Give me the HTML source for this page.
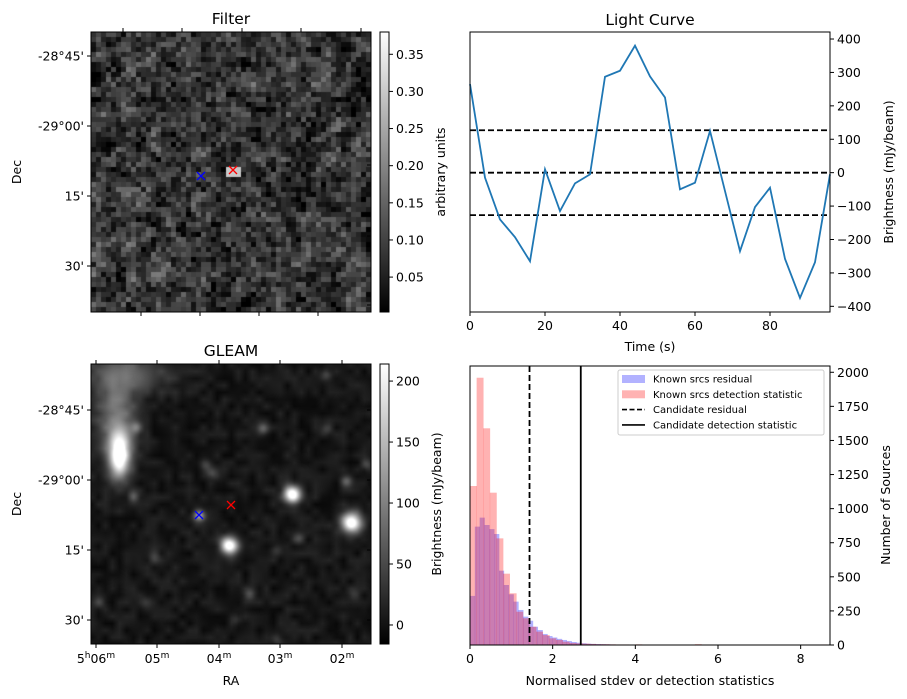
<!DOCTYPE html>
<html><head><meta charset="utf-8">
<style>
body{margin:0;background:#fff;width:907px;height:699px;position:relative;overflow:hidden;font-family:"DejaVu Sans","Liberation Sans",sans-serif}
canvas{position:absolute}
svg{position:absolute;left:0;top:0}
text{font-family:"DejaVu Sans","Liberation Sans",sans-serif;fill:#000}
</style></head><body>
<canvas id="cf" width="280" height="280" style="left:91px;top:32px"></canvas>
<canvas id="cg" width="280" height="280" style="left:91px;top:364px"></canvas>
<svg id="s" width="907" height="699">
<defs>
<linearGradient id="gr" x1="0" y1="1" x2="0" y2="0"><stop offset="0" stop-color="#000"/><stop offset="1" stop-color="#fff"/></linearGradient>
</defs>
</svg>
<script>
// Light curve data
const lcTimes=[0,4,8,12,16,20,24,28,32,36,40,44,48,52,56,60,64,68,72,76,80,84,88,92,96];
const lcFlux=[265,-15,-140,-193,-265,10,-115,-32,-5,287,305,380,288,225,-50,-30,125,-55,-235,-103,-45,-258,-375,-268,-5];
const lcThresholds=[127,0,-127];
const lcXTicks=[0,20,40,60,80];
const lcYTicks=[400,300,200,100,0,-100,-200,-300,-400];
// Histogram data
const redBinWidth=0.16;
const blueBinWidth=0.117;
const redCounts=[1166,1960,1589,1117,782,523,379,244,196,134,98,73,49,37,24,15,12,10,8,6,6,5,4,4,3,5,3,3,2,2,3,2,1,2,6,1,1,3,1,1,1,1,1,1,1,1,1,1,1,1,1,1,0,4];
const blueCounts=[360,868,934,880,850,814,545,440,372,318,257,208,178,134,110,81,66,55,45,37,29,22,17,13,10,8,7,6,5,4,3,3,2,2,2,1,1,1,1,1,1,1,1,1,1,1,1,1,1,1];
const candResidual=1.44;
const candDetection=2.68;
const hXTicks=[0,2,4,6,8];
const hYTicks=[0,250,500,750,1000,1250,1500,1750,2000];
const filterCbTicks=[0.05,0.10,0.15,0.20,0.25,0.30,0.35];
const gleamCbTicks=[0,50,100,150,200];

const S=document.getElementById('s');const NS='http://www.w3.org/2000/svg';
function el(tag,a,txt){const e=document.createElementNS(NS,tag);for(const k in a)e.setAttribute(k,a[k]);if(txt!==undefined)e.textContent=txt;S.appendChild(e);return e;}
function line(x1,y1,x2,y2,st){return el('line',Object.assign({x1,y1,x2,y2,stroke:'#000','stroke-width':1},st||{}));}
function txt(x,y,s,o){return el('text',Object.assign({x,y,'font-size':12.5},o||{}),s);}

// ---- Light curve ----
const L={x0:470,x1:830,y0:32,y1:312,xmin:0,xmax:96,ymin:-417,ymax:421};
const lx=v=>L.x0+(v-L.xmin)/(L.xmax-L.xmin)*(L.x1-L.x0);
const ly=v=>L.y1-(v-L.ymin)/(L.ymax-L.ymin)*(L.y1-L.y0);
lcThresholds.forEach((t,i)=>{const e=line(L.x0,ly(t),L.x1,ly(t),{'stroke-dasharray':'6,3','stroke-width':1.8});
});
let d=lcTimes.map((t,i)=>(i?'L':'M')+lx(t)+','+ly(lcFlux[i])).join('');
const lc=el('path',{d,fill:'none',stroke:'#1f77b4','stroke-width':1.8});

el('rect',{x:L.x0,y:L.y0,width:L.x1-L.x0,height:L.y1-L.y0,fill:'none',stroke:'#000','stroke-width':1,});
lcXTicks.forEach(v=>{line(lx(v),L.y1,lx(v),L.y1+4);txt(lx(v),L.y1+18,v,{'text-anchor':'middle'});});
lcYTicks.forEach(v=>{line(L.x1,ly(v),L.x1+4,ly(v));txt(L.x1+7,ly(v)+4.5,v<0?'\u2212'+(-v):v);});
txt(650,25,'Light Curve',{'text-anchor':'middle','font-size':15.5,});
txt(650,351,'Time (s)',{'text-anchor':'middle',});
txt(0,0,'Brightness (mJy/beam)',{'text-anchor':'middle',transform:'translate(893,172) rotate(-90)',});

// ---- Histogram ----
const H={x0:470,x1:830,y0:366,y1:645,xmin:0,xmax:8.71,ymin:0,ymax:2046};
const hx=v=>H.x0+(v-H.xmin)/(H.xmax-H.xmin)*(H.x1-H.x0);
const hy=v=>H.y1-(v-H.ymin)/(H.ymax-H.ymin)*(H.y1-H.y0);
function hist(counts,bw,col,name){counts.forEach((c,i)=>{if(!c)return;const r=el('rect',{x:hx(i*bw),y:hy(c),width:hx((i+1)*bw)-hx(i*bw)+0.3,height:hy(0)-hy(c),fill:col,'fill-opacity':0.3});
});}
hist(blueCounts,blueBinWidth,'#0000ff','residual');
hist(redCounts,redBinWidth,'#ff0000','detection');
line(hx(candResidual),H.y0,hx(candResidual),H.y1,{'stroke-dasharray':'6,3','stroke-width':1.8,});
line(hx(candDetection),H.y0,hx(candDetection),H.y1,{'stroke-width':1.8,});
el('rect',{x:H.x0,y:H.y0,width:H.x1-H.x0,height:H.y1-H.y0,fill:'none',stroke:'#000',});
hXTicks.forEach(v=>{line(hx(v),H.y1,hx(v),H.y1+4);txt(hx(v),H.y1+18,v,{'text-anchor':'middle'});});
hYTicks.forEach(v=>{line(H.x1,hy(v),H.x1+4,hy(v));txt(H.x1+7,hy(v)+4.5,v);});
txt(650,685,'Normalised stdev or detection statistics',{'text-anchor':'middle',});
txt(0,0,'Number of Sources',{'text-anchor':'middle',transform:'translate(890,505) rotate(-90)',});
// legend
el('rect',{x:618,y:370,width:206,height:65,fill:'#fff','fill-opacity':0.8,stroke:'#ccc',rx:2,});
const items=[['Known srcs residual','p','#0000ff'],['Known srcs detection statistic','p','#ff0000'],['Candidate residual','d'],['Candidate detection statistic','s']];
items.forEach((it,i)=>{const y=379+i*15.3;
if(it[1]==='p')el('rect',{x:622,y:y-4,width:23,height:8,fill:it[2],'fill-opacity':0.3});
else line(622,y,645,y,{'stroke-width':1.6,'stroke-dasharray':it[1]==='d'?'5,2.5':'none'});
txt(653,y+3.5,it[0],{'font-size':10,});});

// ---- Image panels axes ----
function imgAxes(x0,y0,title,topT,botT,leftT,rightT,cbTicks,cbMin,cbMax,cbLabel,fmt,tag){
 el('rect',{x:x0,y:y0,width:280,height:280,fill:'none',stroke:'#000',});
 txt(x0+140,y0-8,title,{'text-anchor':'middle','font-size':15.5,});
 topT.forEach(x=>line(x,y0,x,y0-4));
 botT.forEach(x=>line(x,y0+280,x,y0+284));
 const dec=["-28\u00b045'","-29\u00b000'","15'","30'"];
 leftT.forEach((y,i)=>{line(x0,y,x0-4,y);txt(x0-7,y+4.5,dec[i],{'text-anchor':'end'});});
 rightT.forEach(y=>line(x0+280,y,x0+276,y));
 txt(0,0,'Dec',{'text-anchor':'middle',transform:'translate(21,'+(y0+140)+') rotate(-90)'});
 const cx=380,cw=9;
 el('rect',{x:cx,y:y0,width:cw,height:280,fill:'url(#gr)',stroke:'#000',});
 cbTicks.forEach(v=>{const y=y0+280-(v-cbMin)/(cbMax-cbMin)*280;line(cx+cw,y,cx+cw+4,y);txt(cx+cw+7,y+4.5,fmt(v));});
 txt(0,0,cbLabel,{'text-anchor':'middle',transform:'translate('+(tag==='filter'?445:441)+','+(y0+140)+') rotate(-90)'});
}
imgAxes(91,32,'Filter',[123,182,242,301,361],[141,200,259,318],[56,126,196,266],[96,165,236,305],filterCbTicks,0.003,0.38,'arbitrary units',v=>v.toFixed(2),'filter');
imgAxes(91,364,'GLEAM',[96,157,219,280,342],[96,157,219,280,342],[410,480,550,620],[410,480,550,620],gleamCbTicks,-15.6,214,'Brightness (mJy/beam)',v=>v,'gleam');
const ra=[[96,'5','h','06','m'],[157,'','','05','m'],[219,'','','04','m'],[280,'','','03','m'],[342,'','','02','m']];
ra.forEach(r=>{const t=el('text',{x:r[0],y:663,'font-size':12.5,'text-anchor':'middle'});
 if(r[1]){const a=document.createElementNS(NS,'tspan');a.textContent='5';t.appendChild(a);const b=document.createElementNS(NS,'tspan');b.setAttribute('font-size',9);b.setAttribute('dy',-5);b.textContent='h';t.appendChild(b);const c=document.createElementNS(NS,'tspan');c.setAttribute('dy',5);c.textContent='06';t.appendChild(c);}
 else{const c=document.createElementNS(NS,'tspan');c.textContent=r[3];t.appendChild(c);}
 const m=document.createElementNS(NS,'tspan');m.setAttribute('font-size',9);m.setAttribute('dy',-5);m.textContent='m';t.appendChild(m);});
txt(231,685,'RA',{'text-anchor':'middle'});
function cross(x,y,c,n){const g=el('path',{d:`M${x-4},${y-4}L${x+4},${y+4}M${x-4},${y+4}L${x+4},${y-4}`,stroke:c,'stroke-width':1.3});}
cross(201,176,'#00f','filter-known-source-marker');cross(233,170,'#f00','filter-candidate-marker');
cross(199,515,'#00f','gleam-known-source-marker');cross(231,505,'#f00','gleam-candidate-marker');

// ---- images (texture) ----
let seed=12345;function rnd(){seed=(seed*1103515245+12345)&0x7fffffff;return seed/0x7fffffff;}
(function(){const c=document.getElementById('cf').getContext('2d');const N=56,g=[];
for(let i=0;i<N*N;i++)g.push(rnd());
for(let j=0;j<N;j++)for(let i=0;i<N;i++){let s=0,n=0;for(let dj=-1;dj<=1;dj++)for(let di=-1;di<=1;di++){const a=i+di,b=j+dj;if(a>=0&&b>=0&&a<N&&b<N){const w=(di||dj)?0.5:2;s+=g[b*N+a]*w;n+=w;}}
let v=-0.04+(s/n)*0.24+(rnd()-0.5)*0.09; if(i>=27&&i<=29&&j>=27&&j<=28)v=0.3;
const gr=Math.max(0,Math.min(255,Math.round((v-0.003)/0.377*255)));c.fillStyle=`rgb(${gr},${gr},${gr})`;c.fillRect(i*5,j*5,5,5);}})();
(function(){const c=document.getElementById('cg').getContext('2d');const im=c.createImageData(280,280);
const blobs=[[28,91,7,15,240],[25,55,14,30,90],[35,8,30,14,60],[201,130,6,6,240],[260,158,7,7,240],[138,181,6,6,240],[108,151,4,4,120],[45,63,4,4,70],[172,64,4,4,65],[120,109,4,4,50],[42,132,4,4,50],[255,117,4,4,70],[208,174,4,4,50],[275,100,4,4,45],[158,230,4,4,55],[63,192,4,5,35],[115,101,4,4,40],[185,186,4,4,30],[235,10,4,4,45],[185,275,4,4,35],[145,255,4,4,30],[8,238,4,4,35],[55,238,4,4,30],[262,230,4,4,30],[235,65,4,4,30]];
const N=42,g=[];for(let i=0;i<N*N;i++)g.push(rnd());
for(let y=0;y<280;y++)for(let x=0;x<280;x++){const gx=x/7,gy=y/7,ix=Math.floor(gx),iy=Math.floor(gy),fx=gx-ix,fy=gy-iy;
const a=g[iy*N+ix],b=g[iy*N+ix+1],cc=g[(iy+1)*N+ix],dd=g[(iy+1)*N+ix+1];
let v=-8+26*((a*(1-fx)+b*fx)*(1-fy)+(cc*(1-fx)+dd*fx)*fy);
for(const q of blobs){const dx=(x-q[0])/q[2],dy=(y-q[1])/q[3];v+=q[4]*Math.exp(-(dx*dx+dy*dy)/2);}
let gr=Math.max(0,Math.min(255,Math.round((v+15.6)/229.6*255)));const k=(y*280+x)*4;im.data[k]=im.data[k+1]=im.data[k+2]=gr;im.data[k+3]=255;}
c.putImageData(im,0,0);})();
</script>
</body></html>
